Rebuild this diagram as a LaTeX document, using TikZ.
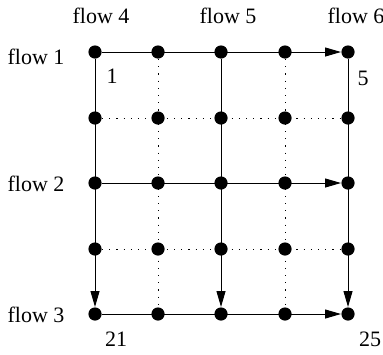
\documentclass[tikz,border=0pt]{standalone}
\usepackage{fontspec}
\setmainfont{Liberation Serif}
\usetikzlibrary{arrows.meta}
\tikzset{
	dot/.style={circle,fill,inner sep=0pt,minimum size=6.6pt},
	flowline/.style={line width=0.5pt,-{Triangle[length=8pt,width=4.5pt]}},
	idleline/.style={line width=0.5pt,dash pattern=on 0.6pt off 3pt}
}

\begin{document}
\begin{tikzpicture}[x=0.5pt,y=-0.5pt,font=\fontsize{11}{13}\selectfont]
	\useasboundingbox (0,0) rectangle (383,354);
	\foreach \c/\x in {1/95,2/158,3/221,4/285,5/348}
		\foreach \r/\y in {1/52,2/118,3/183,4/249,5/314}
			\node[dot] (n\r\c) at (\x,\y) {};
	\foreach \r in {2,4} \draw[idleline] (n\r1) -- (n\r5);
	\foreach \c in {2,4} \draw[idleline] (n1\c) -- (n5\c);
	\foreach \r in {1,3,5} \draw[flowline] (n\r1) -- (n\r5);
	\foreach \c in {1,3,5} \draw[flowline] (n1\c) -- (n5\c);
	\node (flow1) at (36,57) {flow 1};
	\node (flow2) at (36,184) {flow 2};
	\node (flow3) at (36,315) {flow 3};
	\node (flow4) at (101,16) {flow 4};
	\node (flow5) at (228,16) {flow 5};
	\node (flow6) at (356,16) {flow 6};
	\node (first) at (112,76) {1};
	\node (fifth) at (363,78) {5};
	\node (last1) at (116,339) {21};
	\node (last5) at (370,339) {25};
\end{tikzpicture}
\end{document}
